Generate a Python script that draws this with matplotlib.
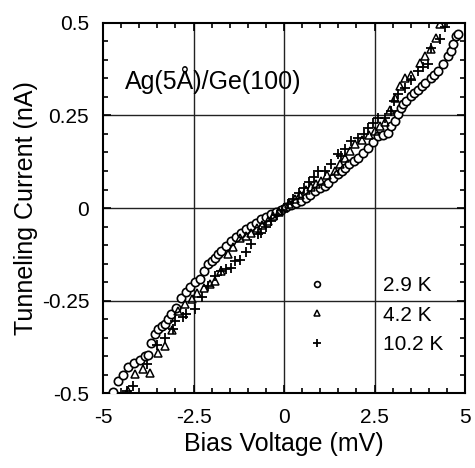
import matplotlib
matplotlib.use("Agg")
import matplotlib.pyplot as plt
from matplotlib.ticker import MultipleLocator

plt.rcParams["font.family"] = ["Liberation Sans", "DejaVu Sans"]

# 2.9 K (open circles)
v_29 = [-4.72, -4.59, -4.45, -4.31, -4.15, -3.98, -3.85, -3.76, -3.67, -3.57,
        -3.48, -3.38, -3.29, -3.20, -3.12, -2.98, -2.85, -2.72, -2.60, -2.45,
        -2.32, -2.20, -2.10, -2.00, -1.91, -1.82, -1.74, -1.60, -1.46, -1.33,
        -1.19, -1.05, -0.91, -0.78, -0.64, -0.50, -0.36, -0.22, -0.08,
        0.06, 0.20, 0.33, 0.47, 0.60, 0.73, 0.86, 1.00, 1.13, 1.22, 1.36,
        1.49, 1.60, 1.69, 1.80, 1.92, 2.04, 2.18, 2.32, 2.45, 2.60, 2.73,
        2.87, 2.96, 3.07, 3.15, 3.23, 3.30, 3.37, 3.50, 3.60, 3.70, 3.80,
        3.90, 4.06, 4.15, 4.25, 4.39, 4.53, 4.60, 4.67, 4.75, 4.80]
i_29 = [-0.498, -0.468, -0.450, -0.430, -0.418, -0.410, -0.400, -0.397, -0.365, -0.340,
        -0.327, -0.320, -0.314, -0.300, -0.287, -0.270, -0.243, -0.228, -0.213, -0.200,
        -0.193, -0.170, -0.152, -0.142, -0.135, -0.125, -0.116, -0.102, -0.089, -0.077,
        -0.067, -0.057, -0.049, -0.040, -0.030, -0.024, -0.017, -0.010, -0.004,
        0.003, 0.008, 0.013, 0.019, 0.027, 0.036, 0.046, 0.055, 0.060, 0.068, 0.080,
        0.092, 0.100, 0.108, 0.118, 0.127, 0.135, 0.148, 0.162, 0.178, 0.195, 0.198,
        0.203, 0.222, 0.235, 0.254, 0.270, 0.280, 0.289, 0.303, 0.312, 0.320, 0.330,
        0.338, 0.351, 0.360, 0.370, 0.389, 0.410, 0.425, 0.443, 0.465, 0.470]

# 4.2 K (open triangles)
v_42 = [-4.31, -4.12, -3.90, -3.70, -3.48, -3.29, -3.10, -2.93, -2.75, -2.55,
        -2.40, -2.20, -2.05, -1.91, -1.74, -1.55, -1.40, -1.22, -1.05, -0.91,
        -0.75, -0.60, -0.45, -0.30, -0.15,
        0.00, 0.15, 0.30, 0.45, 0.60, 0.75, 0.88, 1.02, 1.20, 1.41, 1.55,
        1.69, 1.82, 1.96, 2.15, 2.35, 2.51, 2.65, 2.79, 2.93, 3.07, 3.20,
        3.34, 3.50, 3.75, 3.90, 4.07, 4.20, 4.30]
i_42 = [-0.495, -0.449, -0.435, -0.446, -0.392, -0.373, -0.330, -0.278, -0.260, -0.245,
        -0.230, -0.215, -0.205, -0.197, -0.170, -0.124, -0.105, -0.081, -0.075, -0.068,
        -0.055, -0.045, -0.034, -0.022, -0.010,
        0.000, 0.012, 0.024, 0.036, 0.048, 0.058, 0.066, 0.073, 0.088, 0.100, 0.118,
        0.135, 0.155, 0.173, 0.185, 0.198, 0.208, 0.222, 0.232, 0.265, 0.298, 0.330,
        0.352, 0.360, 0.393, 0.410, 0.429, 0.460, 0.496]

# 10.2 K (plus signs)
v_102 = [-4.35, -4.17, -3.80, -3.50, -3.30, -3.07, -3.01, -2.80, -2.70, -2.46,
         -2.28, -2.10, -1.91, -1.74, -1.60, -1.46, -1.35, -1.22, -1.05, -0.91,
         -0.72, -0.64, -0.50, -0.35, -0.20, -0.05,
         0.10, 0.25, 0.40, 0.55, 0.70, 0.82, 0.94, 1.13, 1.30, 1.49, 1.57,
         1.69, 1.85, 2.04, 2.20, 2.32, 2.45, 2.60, 2.79, 2.96, 3.05, 3.15,
         3.34, 3.50, 3.70, 3.85, 3.98, 4.06, 4.31, 4.45]
i_102 = [-0.495, -0.481, -0.420, -0.370, -0.350, -0.327, -0.305, -0.295, -0.287, -0.273,
         -0.240, -0.210, -0.184, -0.170, -0.165, -0.162, -0.143, -0.140, -0.120, -0.097,
         -0.070, -0.068, -0.050, -0.035, -0.020, -0.005,
         0.010, 0.025, 0.040, 0.055, 0.070, 0.085, 0.100, 0.100, 0.119, 0.146, 0.140,
         0.159, 0.181, 0.189, 0.200, 0.216, 0.230, 0.243, 0.243, 0.262, 0.290, 0.308,
         0.324, 0.345, 0.370, 0.380, 0.389, 0.432, 0.457, 0.490]

x_ticks = [-5, -2.5, 0, 2.5, 5]
x_labels = ["-5", "-2.5", "0", "2.5", "5"]
y_ticks = [-0.5, -0.25, 0, 0.25, 0.5]
y_labels = ["-0.5", "-0.25", "0", "0.25", "0.5"]

fig = plt.figure(figsize=(4.75, 4.68), dpi=100)
ax = fig.add_axes([0.217, 0.160, 0.762, 0.791])

for v in [-2.5, 0, 2.5]:
    ax.axvline(v, color="#222222", lw=1.0, zorder=1)
for i in [-0.25, 0, 0.25]:
    ax.axhline(i, color="#222222", lw=1.0, zorder=1)

ax.plot(v_29, i_29, "o", ms=6, mfc="white", mec="black", mew=1.2,
        label="2.9 K", zorder=3)
ax.plot(v_42, i_42, "^", ms=5.5, mfc="none", mec="black", mew=1.1,
        label="4.2 K", zorder=3)
ax.plot(v_102, i_102, "+", ms=7.5, color="black", mew=1.3,
        label="10.2 K", zorder=3)

ax.set_xlim(-5, 5)
ax.set_ylim(-0.5, 0.5)
ax.set_xticks(x_ticks)
ax.set_xticklabels(x_labels)
ax.set_yticks(y_ticks)
ax.set_yticklabels(y_labels)
ax.xaxis.set_minor_locator(MultipleLocator(0.5))
ax.yaxis.set_minor_locator(MultipleLocator(0.05))
ax.tick_params(which="both", direction="in", top=True, right=True,
               width=1.2, labelsize=15)
ax.tick_params(which="major", length=6)
ax.tick_params(which="minor", length=3.5)
ax.tick_params(axis="x", pad=11)
ax.tick_params(axis="y", pad=10)
for spine in ax.spines.values():
    spine.set_linewidth(1.5)

ax.set_xlabel("Bias Voltage (mV)", fontsize=18, labelpad=3)
ax.set_ylabel("Tunneling Current (nA)", fontsize=18, labelpad=3)

ax.text(0.061, 0.822, "Ag(5Å)/Ge(100)", transform=ax.transAxes,
        fontsize=18, va="baseline", ha="left")

ax.legend(loc="upper left", bbox_to_anchor=(0.562, 0.316), frameon=False,
          fontsize=15, markerscale=0.7, handlelength=1.0, handletextpad=2.67,
          borderpad=0, borderaxespad=0, labelspacing=0.5)

fig.savefig("out.png", dpi=100)
